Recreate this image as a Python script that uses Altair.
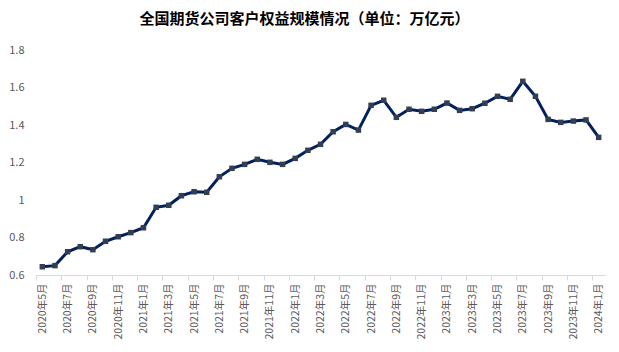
import json
import altair as alt
import pandas as pd

months = [
    "2020年5月", "2020年6月", "2020年7月", "2020年8月", "2020年9月", "2020年10月", "2020年11月", "2020年12月",
    "2021年1月", "2021年2月", "2021年3月", "2021年4月", "2021年5月", "2021年6月", "2021年7月", "2021年8月",
    "2021年9月", "2021年10月", "2021年11月", "2021年12月",
    "2022年1月", "2022年2月", "2022年3月", "2022年4月", "2022年5月", "2022年6月", "2022年7月", "2022年8月",
    "2022年9月", "2022年10月", "2022年11月", "2022年12月",
    "2023年1月", "2023年2月", "2023年3月", "2023年4月", "2023年5月", "2023年6月", "2023年7月", "2023年8月",
    "2023年9月", "2023年10月", "2023年11月", "2023年12月",
    "2024年1月",
]
values = [
    0.644, 0.650, 0.724, 0.751, 0.735, 0.780, 0.804, 0.826,
    0.852, 0.961, 0.972, 1.023, 1.044, 1.041, 1.124, 1.169,
    1.190, 1.217, 1.201, 1.190,
    1.222, 1.265, 1.297, 1.364, 1.403, 1.373, 1.505, 1.532,
    1.441, 1.484, 1.473, 1.484,
    1.517, 1.478, 1.487, 1.516, 1.553, 1.537, 1.633, 1.553,
    1.430, 1.414, 1.421, 1.427,
    1.334,
]
y_ticks = [0.6, 0.8, 1.0, 1.2, 1.4, 1.6, 1.8]

df = pd.DataFrame({"idx": list(range(len(months))), "month": months, "value": values})

n = len(months)
label_pos = list(range(0, n, 2))
tick_pos = [i - 0.5 for i in range(0, n, 2)]
axis_vals = sorted(label_pos + tick_pos)
labels_js = json.dumps(months, ensure_ascii=False)

x_enc = alt.X(
    "idx:Q",
    scale=alt.Scale(domain=[-0.5, n - 0.5], nice=False, zero=False),
    axis=alt.Axis(
        title=None,
        values=axis_vals,
        labelExpr=f"datum.value % 1 == 0 ? {labels_js}[datum.value] : ''",
        labelAngle=-90,
        labelFont="Noto Sans CJK SC",
        labelFontSize=10.5,
        labelColor="#595959",
        labelOverlap=False,
        labelBound=False,
        labelPadding=3,
        tickSize=5,
        tickColor="#d9d9d9",
        tickOpacity={"condition": {"test": "datum.value % 1 != 0", "value": 1}, "value": 0},
        domainColor="#d9d9d9",
        domainWidth=1,
        grid=False,
    ),
)
y_enc = alt.Y(
    "value:Q",
    scale=alt.Scale(domain=[0.6, 1.8], nice=False, zero=False),
    axis=alt.Axis(
        title=None,
        values=y_ticks,
        format=".1~f",
        labelFont="Noto Sans CJK SC",
        labelFontSize=11,
        labelColor="#595959",
        labelPadding=12,
        labelOverlap=False,
        labelBound=False,
        ticks=False,
        domain=False,
        grid=False,
    ),
)

base = alt.Chart(df).encode(x=x_enc, y=y_enc)
line = base.mark_line(color="#002060", strokeWidth=3)
pts = base.mark_point(shape="square", filled=True, size=30, color="#333F50", opacity=1)

chart = (
    alt.layer(line, pts)
    .properties(
        width=569,
        height=225,
        background="white",
        autosize=alt.AutoSizeParams(type="none"),
        padding={"left": 36, "top": 50, "right": 14, "bottom": 77},
        title=alt.TitleParams(
            "全国期货公司客户权益规模情况（单位：万亿元）",
            font="Noto Sans CJK SC",
            fontSize=15,
            fontWeight="bold",
            color="#000000",
            anchor="middle",
            dx=-16,
            offset=17,
        ),
    )
    .configure_view(strokeWidth=0, strokeOpacity=0)
)

chart.save("out.html", embed_options={"renderer": "svg", "actions": False})
